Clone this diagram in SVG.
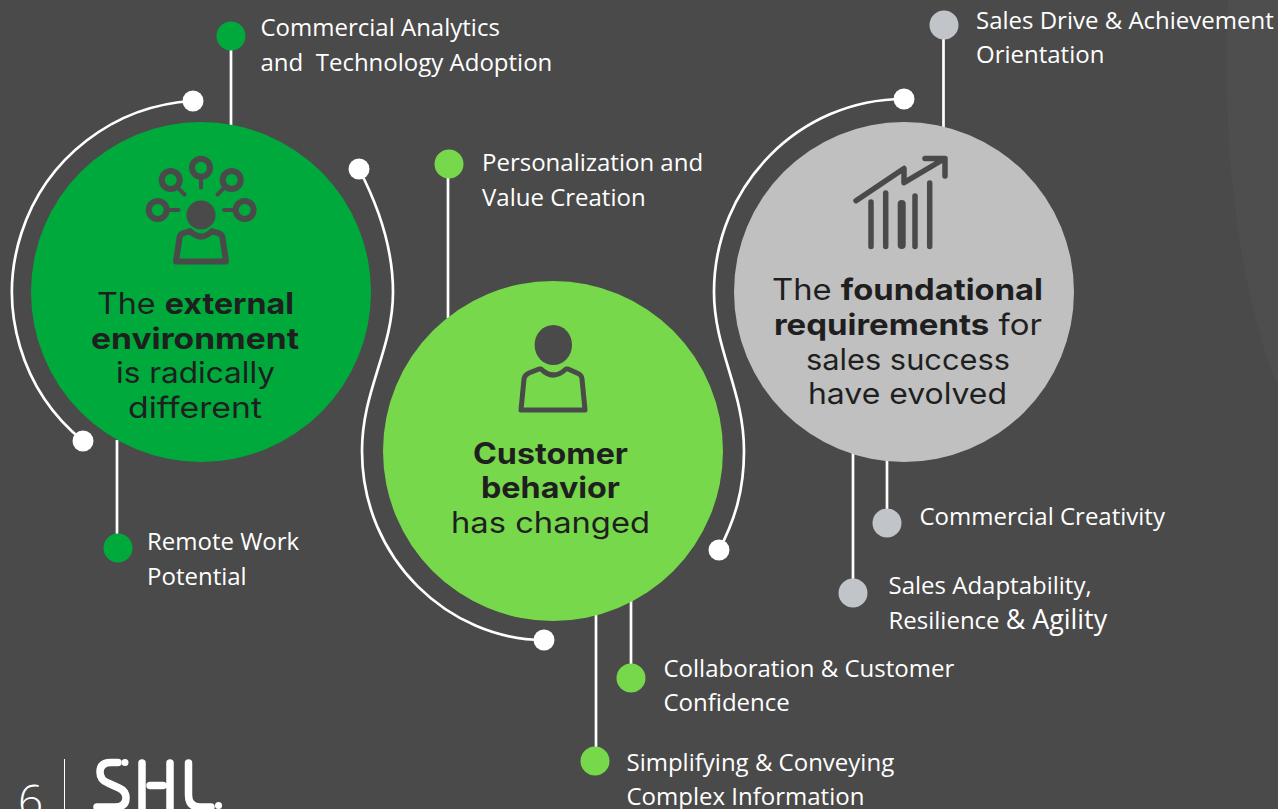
<svg xmlns="http://www.w3.org/2000/svg" width="1278" height="809" viewBox="0 0 1278 809">
<style>
.l{font:24px "Open Sans",sans-serif;fill:#fff;white-space:pre}
.h{font:29.5px Inter,"Liberation Sans",sans-serif;fill:#1f1f1f}
.b{font-weight:700}
.c{fill:none;stroke:#fff;stroke-width:2.700}
.i{fill:none;stroke:#4a4a4a;stroke-linecap:round;stroke-linejoin:round}
.f{fill:#4a4a4a}
.w{fill:#fff}
</style>
<rect width="1278" height="809" fill="#4a4a4a"/>
<path d="M1228 0C1222 100 1230 270 1278 387V0Z" fill="#4e4e4e"/>
<g id="connectors">
<path class="c" d="M231 36V125"/>
<path class="c" d="M117 440V548"/>
<path class="c" d="M448 164V318"/>
<path class="c" d="M631 600V678"/>
<path class="c" d="M596 615V761"/>
<path class="c" d="M943.500 25V128"/>
<path class="c" d="M887 460V523"/>
<path class="c" d="M853 450V593"/>
<path class="c" d="M193 101A191.500 191.500 0 0 0 83 441"/>
<path class="c" d="M359 169C383 215 393 255 393 292C393 350 362 390 362 451C362 560 450 640 544 640"/>
<path class="c" d="M904 99C800 99 714 185 714 292C714 350 744 390 744 451C744 490 735 520 719 550"/>
</g>
<g class="w" id="ring-dots">
<circle cx="193" cy="101" r="10.500"/><circle cx="83" cy="441" r="10.500"/><circle cx="359" cy="169" r="10.500"/>
<circle cx="544" cy="640" r="10.500"/><circle cx="904" cy="99" r="10.500"/><circle cx="719" cy="550" r="10.500"/>
</g>
<g id="node-external">
<circle cx="201" cy="292" r="170" fill="#00a93c"/>
<g class="i" stroke-width="6">
<circle cx="170.700" cy="180" r="9"/><circle cx="201" cy="167.700" r="9"/><circle cx="231.700" cy="180" r="9"/><circle cx="157.700" cy="210" r="9"/><circle cx="244.700" cy="210" r="9"/>
</g>
<g class="i" stroke-width="4">
<path d="M178 188L184.500 194.500M201 179V187.500M224 188L217.500 194.500M169 210H178.500M224 210H233"/>
</g>
<path class="i" stroke-width="6" d="M176 261.500L179.500 238Q180 234 184 233L190 231Q201 242 212 231L218 233Q222 234 222.500 238L226 261.500Z"/>
<circle class="f" cx="201" cy="215" r="14.500"/>
<text class="h" x="97" y="314" textLength="197" lengthAdjust="spacingAndGlyphs">The <tspan class="b">external</tspan></text>
<text class="h b" x="91" y="349" textLength="208" lengthAdjust="spacingAndGlyphs">environment</text>
<text class="h" x="116" y="383" textLength="159" lengthAdjust="spacingAndGlyphs">is radically</text>
<text class="h" x="128" y="418" textLength="134" lengthAdjust="spacingAndGlyphs">different</text>
</g>
<g id="node-customer">
<circle cx="553" cy="451" r="170" fill="#77d84b"/>
<ellipse class="f" cx="553.300" cy="345" rx="18.700" ry="20"/>
<path class="i" stroke-width="5" d="M521 410L524 379Q524.500 375 529 373L539 369L541 369Q553 381 566 369L568 369L577 373Q582 375 582 379L585 410Z"/>
<text class="h b" x="473" y="464" textLength="155" lengthAdjust="spacingAndGlyphs">Customer</text>
<text class="h b" x="481" y="498" textLength="139" lengthAdjust="spacingAndGlyphs">behavior</text>
<text class="h" x="451" y="533" textLength="199" lengthAdjust="spacingAndGlyphs">has changed</text>
</g>
<g id="node-foundational">
<circle cx="904" cy="292" r="170" fill="#c0c0c0"/>
<g class="i" stroke-width="5.500">
<path d="M856 200.700L904 168.500L904 182.700L944 159M925 158.500H945V176"/>
<path d="M871 202V246.500M885.700 193V246.500M915 196V246.500M929.700 183V246.500"/>
<path stroke-width="8" d="M901.700 204V245"/>
</g>
<text class="h" x="772" y="300" textLength="271" lengthAdjust="spacingAndGlyphs">The <tspan class="b">foundational</tspan></text>
<text class="h" x="774" y="335" textLength="268" lengthAdjust="spacingAndGlyphs"><tspan class="b">requirements</tspan> for</text>
<text class="h" x="806" y="370" textLength="204" lengthAdjust="spacingAndGlyphs">sales success</text>
<text class="h" x="808" y="404" textLength="199" lengthAdjust="spacingAndGlyphs">have evolved</text>
</g>
<g id="leaf-analytics"><circle cx="231" cy="36" r="14.500" fill="#00a93c"/><text class="l"><tspan x="260.500" y="36">Commercial Analytics</tspan><tspan x="260.500" y="71">and  Technology Adoption</tspan></text></g>
<g id="leaf-remote"><circle cx="118" cy="548" r="14.500" fill="#00a93c"/><text class="l"><tspan x="147" y="550">Remote Work</tspan><tspan x="147" y="585">Potential</tspan></text></g>
<g id="leaf-personalization"><circle cx="449" cy="164" r="14.500" fill="#77d84b"/><text class="l"><tspan x="482" y="171">Personalization and</tspan><tspan x="482" y="206">Value Creation</tspan></text></g>
<g id="leaf-collaboration"><circle cx="631" cy="678" r="14.500" fill="#77d84b"/><text class="l"><tspan x="663.500" y="677">Collaboration &amp; Customer</tspan><tspan x="663.500" y="711">Confidence</tspan></text></g>
<g id="leaf-simplifying"><circle cx="595" cy="761" r="14.500" fill="#77d84b"/><text class="l"><tspan x="626.500" y="771">Simplifying &amp; Conveying</tspan><tspan x="626.500" y="805">Complex Information</tspan></text></g>
<g id="leaf-sales-drive"><circle cx="944" cy="25" r="14.500" fill="#c1c4c9"/><text class="l"><tspan x="976" y="29">Sales Drive &amp; Achievement</tspan><tspan x="976" y="63">Orientation</tspan></text></g>
<g id="leaf-creativity"><circle cx="887" cy="523" r="14.500" fill="#c1c4c9"/><text class="l"><tspan x="919.500" y="525">Commercial Creativity</tspan></text></g>
<g id="leaf-adaptability"><circle cx="853" cy="593" r="14.500" fill="#c1c4c9"/><text class="l"><tspan x="888.500" y="594">Sales Adaptability,</tspan><tspan x="888.500" y="629">Resilience <tspan style="font-size:26.800px">&amp; Agility</tspan></tspan></text></g>
<g id="footer">
<text x="18" y="817" style="font:300 44px 'Open Sans',sans-serif" fill="#fff">6</text>
<path d="M64.500 759V809" stroke="#fff" stroke-width="1"/>
<g fill="none" stroke="#fff" stroke-width="7.500" stroke-linecap="round" stroke-linejoin="round">
<path d="M118 762.500H111Q100 762.500 100 772Q100 780 108 783L119 788Q126 791 126 798Q126 807 115 807H97"/>
<path d="M142 763V812M170 763V812M150 785.500H163M188.500 763V795Q188.500 807 200 807H211"/>
</g>
<circle class="w" cx="125" cy="762.500" r="3.500"/><circle class="w" cx="218.500" cy="805.500" r="3.500"/>
</g>
</svg>
